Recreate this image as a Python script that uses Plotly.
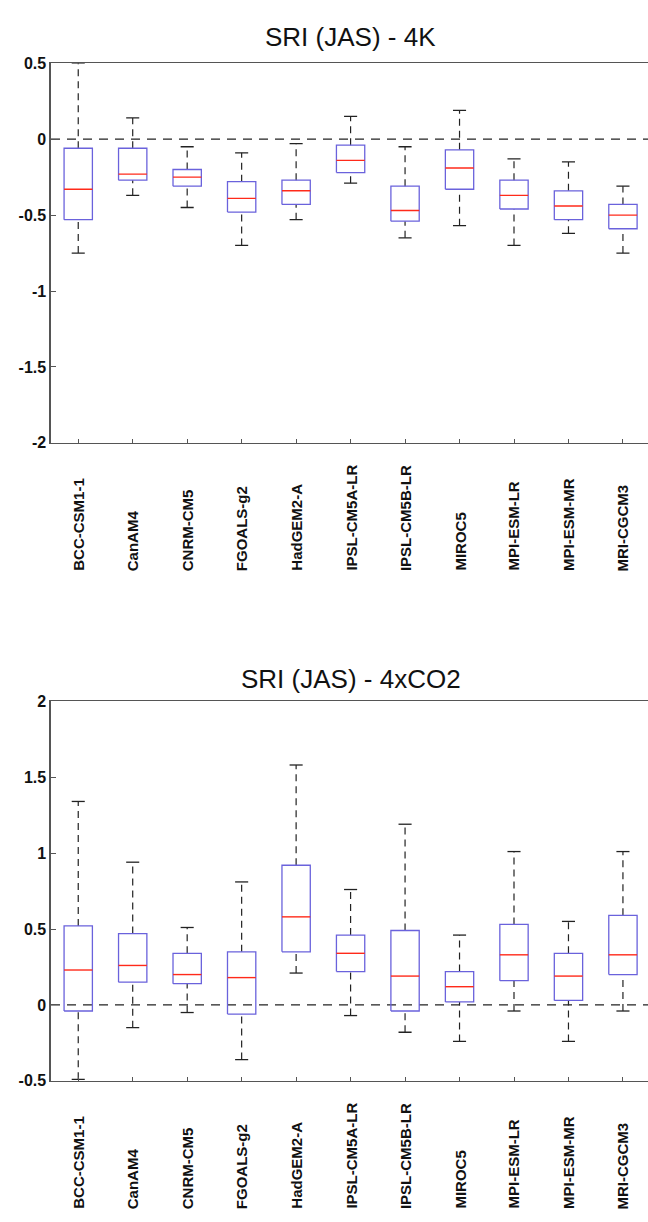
import plotly.graph_objects as go

# ---------------- data ----------------
models = ["BCC-CSM1-1", "CanAM4", "CNRM-CM5", "FGOALS-g2", "HadGEM2-A",
          "IPSL-CM5A-LR", "IPSL-CM5B-LR", "MIROC5", "MPI-ESM-LR", "MPI-ESM-MR", "MRI-CGCM3"]

# SRI (JAS) - 4K
k4_low = [-0.75, -0.37, -0.45, -0.70, -0.53, -0.29, -0.65, -0.57, -0.70, -0.62, -0.75]
k4_q1 = [-0.53, -0.27, -0.31, -0.48, -0.43, -0.22, -0.54, -0.33, -0.46, -0.53, -0.59]
k4_med = [-0.33, -0.23, -0.25, -0.39, -0.34, -0.14, -0.47, -0.19, -0.37, -0.44, -0.50]
k4_q3 = [-0.06, -0.06, -0.20, -0.28, -0.27, -0.04, -0.31, -0.07, -0.27, -0.34, -0.43]
k4_high = [0.50, 0.14, -0.05, -0.09, -0.03, 0.15, -0.05, 0.19, -0.13, -0.15, -0.31]

# SRI (JAS) - 4xCO2
co2_low = [-0.49, -0.15, -0.05, -0.36, 0.21, -0.07, -0.18, -0.24, -0.04, -0.24, -0.04]
co2_q1 = [-0.04, 0.15, 0.14, -0.06, 0.35, 0.22, -0.04, 0.02, 0.16, 0.03, 0.20]
co2_med = [0.23, 0.26, 0.20, 0.18, 0.58, 0.34, 0.19, 0.12, 0.33, 0.19, 0.33]
co2_q3 = [0.52, 0.47, 0.34, 0.35, 0.92, 0.46, 0.49, 0.22, 0.53, 0.34, 0.59]
co2_high = [1.34, 0.94, 0.51, 0.81, 1.58, 0.76, 1.19, 0.46, 1.01, 0.55, 1.01]

panels = [
    dict(title="SRI (JAS) - 4K", low=k4_low, q1=k4_q1, med=k4_med, q3=k4_q3, high=k4_high,
         yrange=[-2, 0.5], ticks=[-2, -1.5, -1, -0.5, 0, 0.5],
         ticktext=["-2", "-1.5", "-1", "-0.5", "0", "0.5"]),
    dict(title="SRI (JAS) - 4xCO2", low=co2_low, q1=co2_q1, med=co2_med, q3=co2_q3, high=co2_high,
         yrange=[-0.5, 2], ticks=[-0.5, 0, 0.5, 1, 1.5, 2],
         ticktext=["-0.5", "0", "0.5", "1", "1.5", "2"]),
]

# ---------------- layout geometry (pixels) ----------------
W, H = 648, 1222
PLOT_LEFT = 51
PANEL_TOP = [56, 703]
PANEL_BOT = [441, 1088]
TITLE_Y = [29, 680]
LABEL_GAP = 132
BOX_HALF = 0.26
CAP_HALF = 0.12

AXIS_COL = "#555555"
BOX_COL = "#6a62dc"
MED_COL = "#ff2a1a"
WHISK_COL = "#222222"
FONT = "Liberation Sans, Arial, sans-serif"

fig = go.Figure()

def seg(xs, ys):
    out_x, out_y = [], []
    for a, b in zip(xs, ys):
        out_x += list(a) + [None]
        out_y += list(b) + [None]
    return out_x, out_y

annotations = []
for p_i, p in enumerate(panels):
    xa = "x" if p_i == 0 else "x2"
    ya = "y" if p_i == 0 else "y2"
    pos = list(range(1, len(models) + 1))

    # zero reference line
    fig.add_trace(go.Scatter(x=[0.5, 11.5], y=[0, 0], mode="lines", xaxis=xa, yaxis=ya,
                             line=dict(color=WHISK_COL, width=1.2, dash="9px,7px"),
                             hoverinfo="skip", showlegend=False))

    # whiskers (dashed)
    wx, wy = seg([(x, x) for x in pos] + [(x, x) for x in pos],
                 [(q3, hi) for q3, hi in zip(p["q3"], p["high"])] +
                 [(lo, q1) for lo, q1 in zip(p["low"], p["q1"])])
    fig.add_trace(go.Scatter(x=wx, y=wy, mode="lines", xaxis=xa, yaxis=ya,
                             line=dict(color=WHISK_COL, width=1.2, dash="7px,5px"),
                             hoverinfo="skip", showlegend=False))
    # caps
    cx, cy = seg([(x - CAP_HALF, x + CAP_HALF) for x in pos] * 2,
                 [(v, v) for v in p["high"]] + [(v, v) for v in p["low"]])
    fig.add_trace(go.Scatter(x=cx, y=cy, mode="lines", xaxis=xa, yaxis=ya,
                             line=dict(color=WHISK_COL, width=1.3),
                             hoverinfo="skip", showlegend=False))
    # boxes
    bx, by = seg([(x - BOX_HALF, x + BOX_HALF, x + BOX_HALF, x - BOX_HALF, x - BOX_HALF) for x in pos],
                 [(a, a, b, b, a) for a, b in zip(p["q1"], p["q3"])])
    fig.add_trace(go.Scatter(x=bx, y=by, mode="lines", xaxis=xa, yaxis=ya,
                             line=dict(color=BOX_COL, width=1.3),
                             hoverinfo="skip", showlegend=False))
    # medians
    mx, my = seg([(x - BOX_HALF, x + BOX_HALF) for x in pos], [(m, m) for m in p["med"]])
    fig.add_trace(go.Scatter(x=mx, y=my, mode="lines", xaxis=xa, yaxis=ya,
                             line=dict(color=MED_COL, width=1.4),
                             hoverinfo="skip", showlegend=False))

    # title
    annotations.append(dict(text=p["title"], xref="paper", yref="paper",
                            x=(PLOT_LEFT + 650) / 2 / W, y=1 - TITLE_Y[p_i] / H,
                            xanchor="center", yanchor="middle", showarrow=False,
                            font=dict(family=FONT, size=26, color="#111111")))
    # rotated category labels (bottom-aligned)
    for x, name in zip(pos, models):
        annotations.append(dict(text=name, xref=xa, yref="paper", x=x,
                                y=1 - (PANEL_BOT[p_i] + LABEL_GAP) / H,
                                xanchor="center", yanchor="bottom", textangle=-90,
                                showarrow=False,
                                font=dict(family=FONT, size=15, color="#111111", weight="bold")))

def xaxis_cfg(p_i):
    return dict(domain=[PLOT_LEFT / W, 1.0], range=[0.5, 11.46],
                showgrid=False, zeroline=False, showline=True, mirror=True,
                linecolor=AXIS_COL, linewidth=1.6,
                tickvals=list(range(1, len(models) + 1)), ticks="inside", ticklen=4,
                tickcolor=AXIS_COL, showticklabels=False,
                anchor="y" if p_i == 0 else "y2")

def yaxis_cfg(p_i):
    p = panels[p_i]
    return dict(domain=[1 - PANEL_BOT[p_i] / H, 1 - PANEL_TOP[p_i] / H],
                range=p["yrange"], tickvals=p["ticks"], ticktext=p["ticktext"],
                showgrid=False, zeroline=False, showline=True, mirror=False,
                linecolor=AXIS_COL, linewidth=1.6, ticks="inside", ticklen=5,
                tickcolor=AXIS_COL,
                tickfont=dict(family=FONT, size=16, color="#111111", weight="bold"),
                anchor="x" if p_i == 0 else "x2")

fig.update_layout(
    width=W, height=H, autosize=False,
    margin=dict(l=0, r=0, t=0, b=0),
    paper_bgcolor="white", plot_bgcolor="white",
    showlegend=False,
    xaxis=xaxis_cfg(0), yaxis=yaxis_cfg(0),
    xaxis2=xaxis_cfg(1), yaxis2=yaxis_cfg(1),
    annotations=annotations,
)

fig.write_html(
    "out.html",
    config={"displayModeBar": False, "staticPlot": True},
    post_script="document.body.style.margin='0';document.body.style.padding='0';"
                "document.body.style.overflow='hidden';",
)
